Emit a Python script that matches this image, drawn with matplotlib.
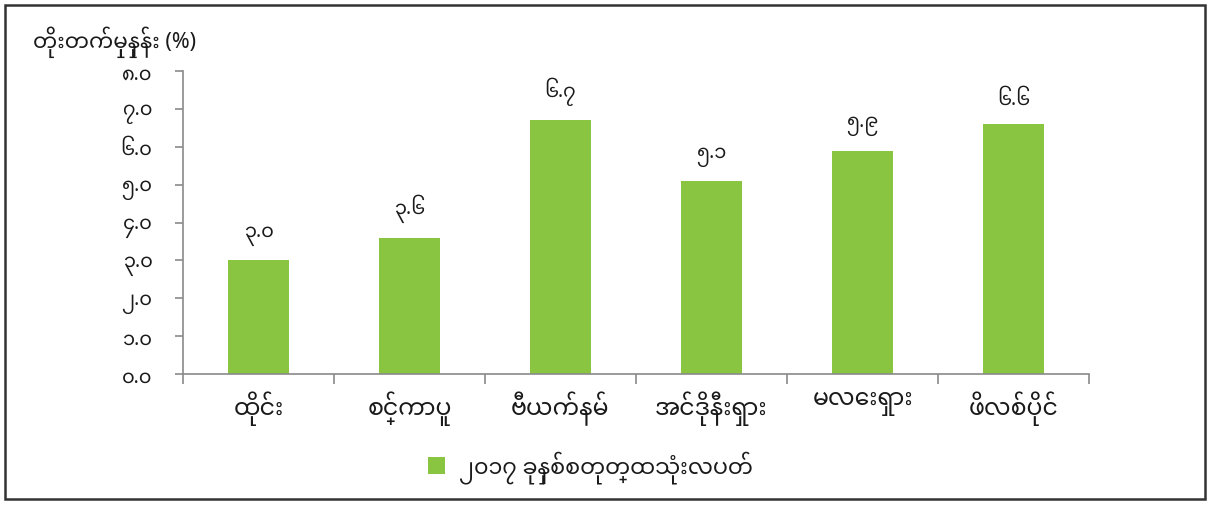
import matplotlib
matplotlib.use('Agg')
import matplotlib.pyplot as plt
from matplotlib.patches import Rectangle

plt.rcParams['font.family'] = ['Noto Sans Myanmar', 'DejaVu Sans']

categories = ['ထိုင်း', 'စင်္ကာပူ', 'ဗီယက်နမ်', 'အင်ဒိုနီးရှား', 'မလေးရှား', 'ဖိလစ်ပိုင်']
values = [3.0, 3.6, 6.7, 5.1, 5.9, 6.6]
series_name = '၂၀၁၇ ခုနှစ်စတုတ္ထသုံးလပတ်'
y_title = 'တိုးတက်မှုနှုန်း (%)'
y_ticks = [0, 1, 2, 3, 4, 5, 6, 7, 8]

MY_DIGITS = str.maketrans('0123456789', '၀၁၂၃၄၅၆၇၈၉')
def my_num(v):
    return f'{v:.1f}'.translate(MY_DIGITS)

bar_color = '#8AC541'
axis_color = '#8a8a8a'
text_color = '#1a1a1a'

fig = plt.figure(figsize=(12.1, 5.06), dpi=100)
ax = fig.add_axes([183/1210, 1-375/506, (1089-183)/1210, (375-72)/506])

x = list(range(len(categories)))
bars = ax.bar(x, values, width=0.4, color=bar_color, zorder=2, label=series_name)

ax.set_xlim(-0.5, len(categories) - 0.5)
ax.set_ylim(0, 8)
ax.set_yticks(y_ticks)
ax.set_yticklabels([my_num(t) for t in y_ticks], fontsize=14, color=text_color)

ax.set_xticks(x)
ax.set_xticklabels(categories, fontsize=17, color=text_color)
ax.tick_params(axis='x', length=0, pad=12)
ax.set_xticks([i - 0.5 for i in range(len(categories) + 1)], minor=True)
ax.tick_params(axis='x', which='minor', length=7, direction='out', color=axis_color, width=1.2)
ax.tick_params(axis='y', length=6, direction='out', color=axis_color, width=1.2, pad=16)

for s in ['top', 'right']:
    ax.spines[s].set_visible(False)
for s in ['left', 'bottom']:
    ax.spines[s].set_color(axis_color)
    ax.spines[s].set_linewidth(1.2)

ax.bar_label(bars, labels=[my_num(v) for v in values], padding=11, fontsize=14, color=text_color)

fig.text(33/1210, 1-42/506, y_title, fontsize=15.5, color=text_color, va='center', ha='left')

leg = fig.legend(handles=[bars], labels=[series_name], loc='center', bbox_to_anchor=(590/1210, 1-468/506),
                 frameon=False, fontsize=16, handlelength=0.8, handleheight=0.8, handletextpad=0.6)
for t in leg.get_texts():
    t.set_color(text_color)

fig.patches.append(Rectangle((5/1210, 6/506), 1200/1210, 494/506, transform=fig.transFigure,
                             fill=False, edgecolor='#333333', linewidth=1.8))

fig.savefig('out.png', dpi=100)
